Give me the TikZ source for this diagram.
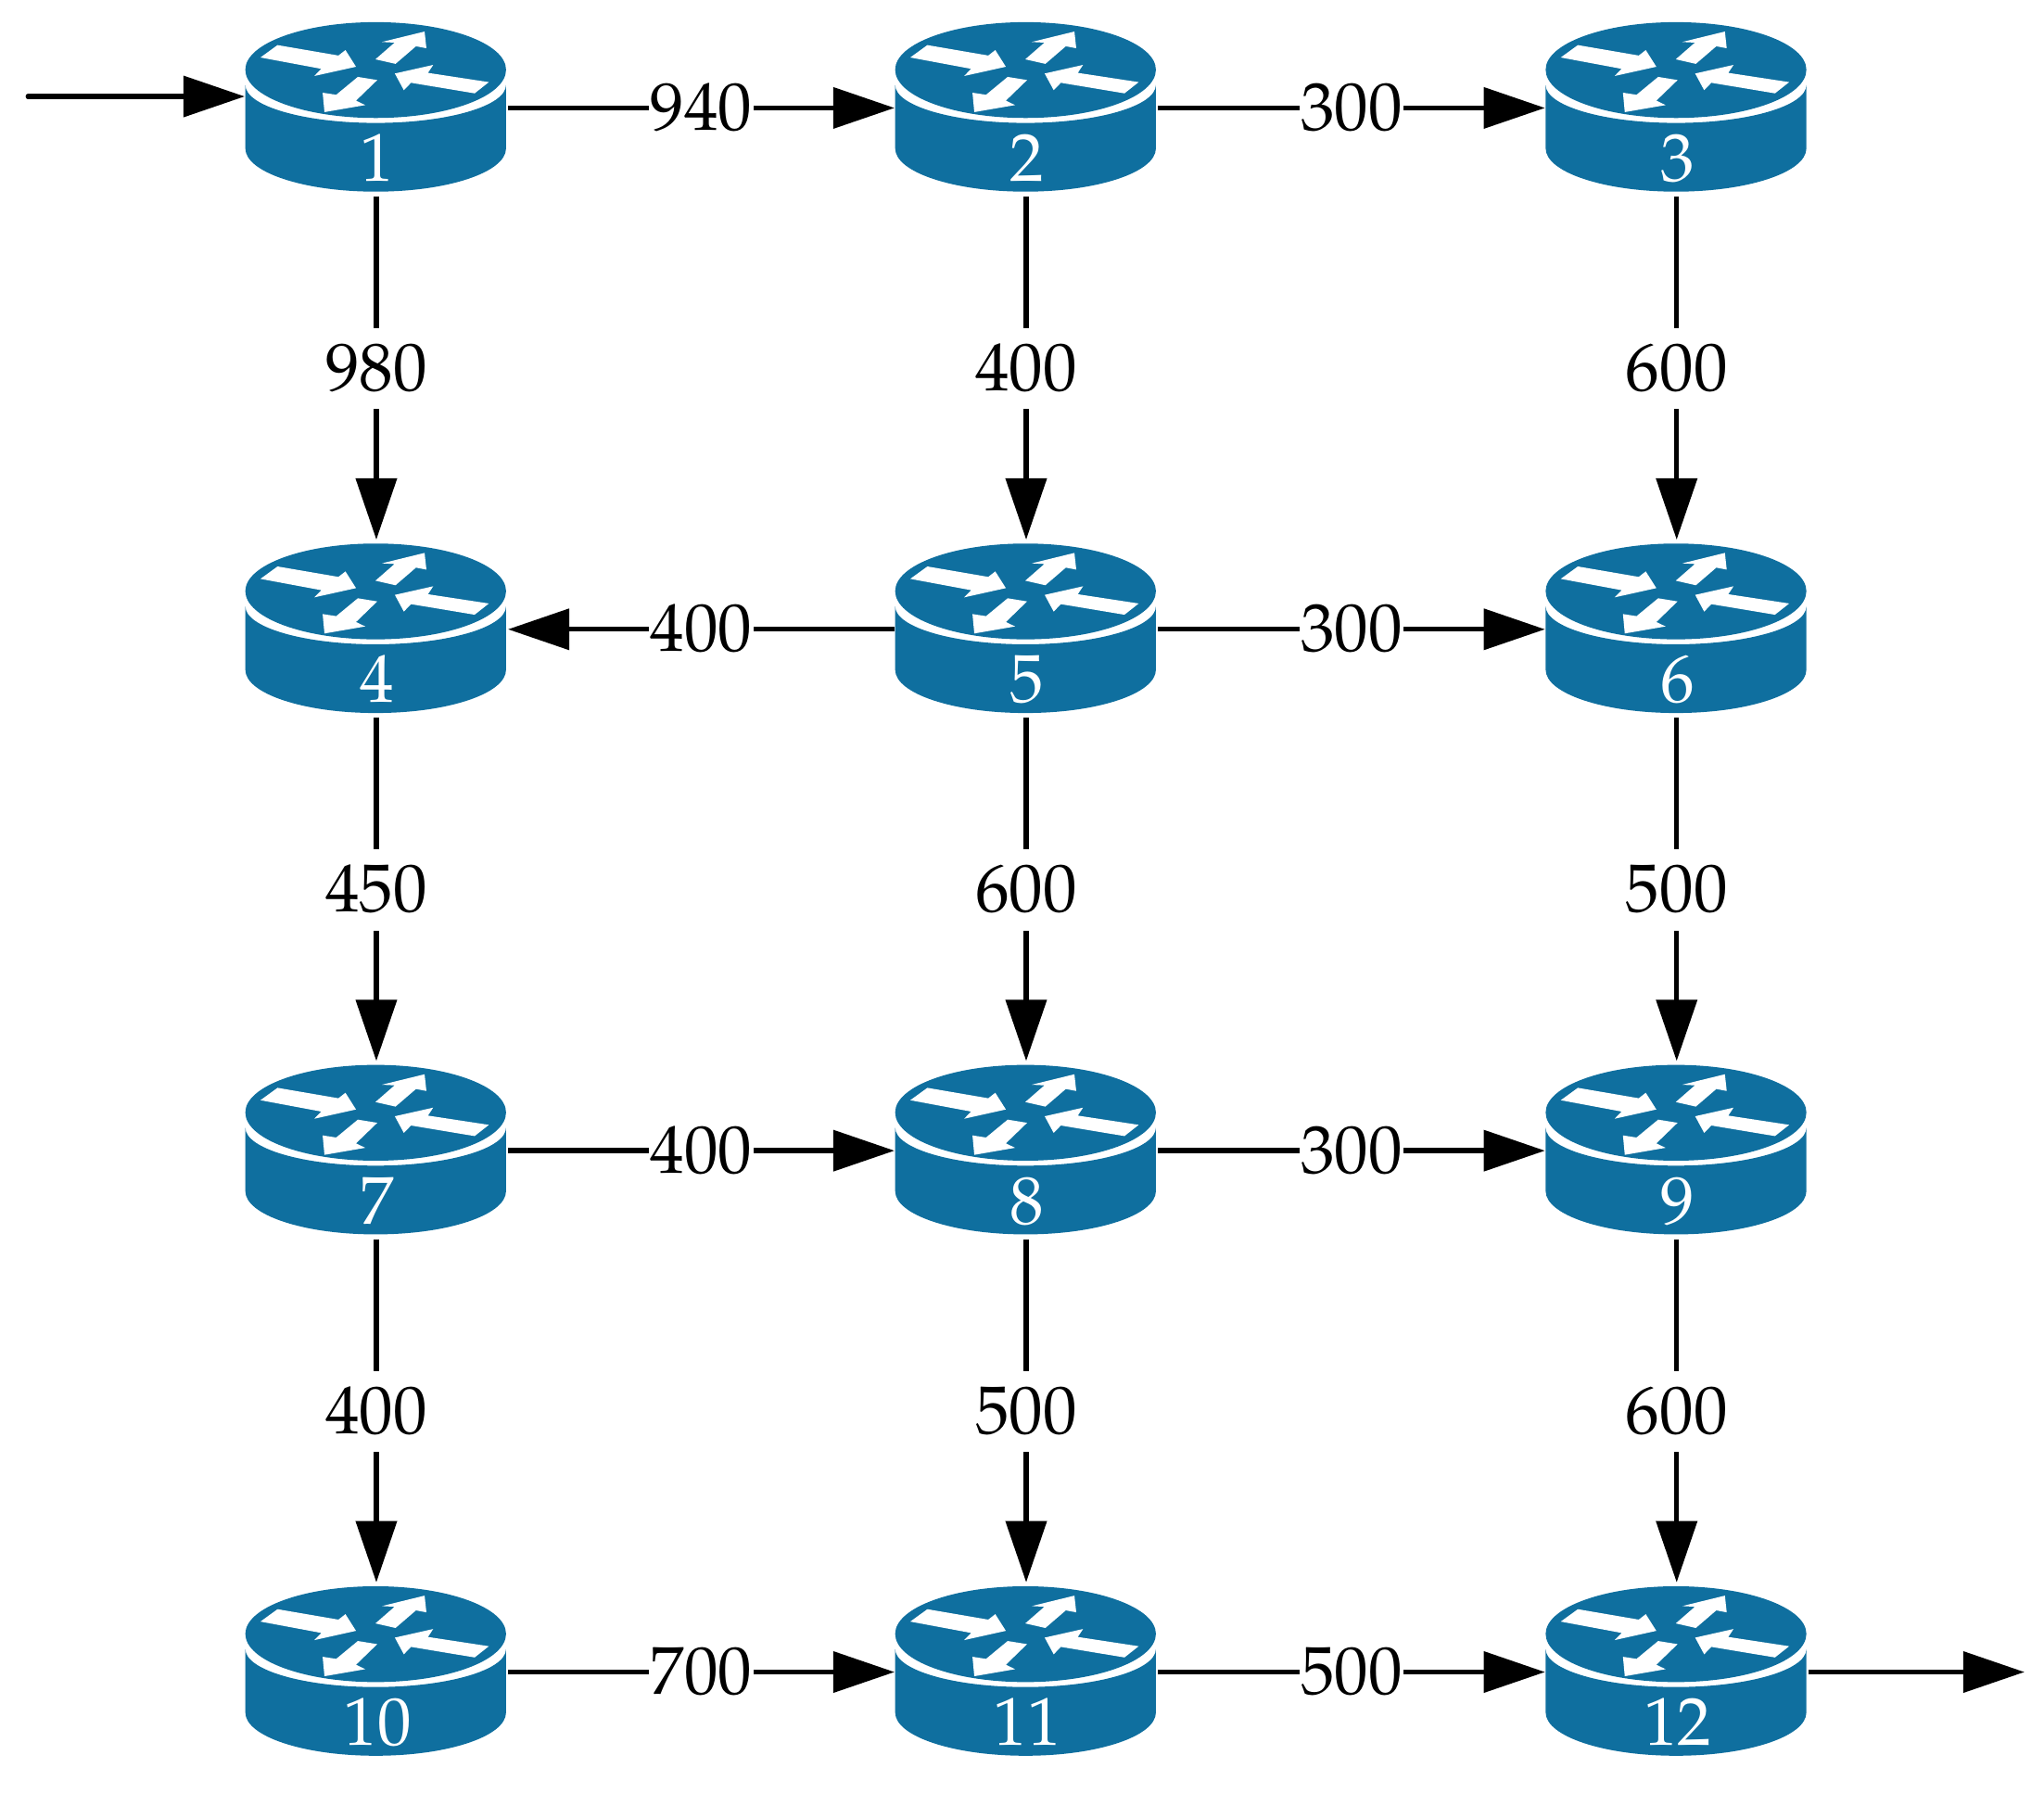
\documentclass[tikz,border=0pt]{standalone}
\usepackage[T1]{fontenc}
\usepackage{mathpazo}
\usetikzlibrary{arrows.meta}
\definecolor{routerblue}{HTML}{0F6F9F}
\tikzset{
  routerbox/.style={rectangle,inner sep=0pt,minimum width=200pt,minimum height=131pt,outer xsep=1pt,outer ysep=2.3pt},
  routertext/.style={inner sep=0pt,text=white,font=\fontsize{52}{56}\selectfont,text height=35pt,text depth=0pt},
  link/.style={line width=3.8pt,-{Triangle[length=47pt,width=31pt]}},
  vlink/.style={link,shorten >=1pt},
  cost/.style={fill=white,font=\fontsize{52}{56}\selectfont,text height=34pt,text depth=0pt,inner xsep=1pt,inner ysep=14pt},
}
\newcommand{\routerat}[4]{%
  \begin{scope}[shift={(#2,#3)}]
    \fill[routerblue] (-100,-16.8) arc[start angle=180,end angle=0,x radius=100,y radius=29.1]
      -- (100,31.8) arc[start angle=0,end angle=180,x radius=100,y radius=33.2] -- cycle;
    \fill[routerblue] (-100,-28.5) arc[start angle=180,end angle=360,x radius=100,y radius=36.5]
      arc[start angle=0,end angle=180,x radius=100,y radius=37] -- cycle;
    \fill[white] (-88.4,-37.9) -- (-75.3,-47.4) -- (-28.6,-39.4) -- (-23.2,-43.6) -- (-15.1,-30.8) -- (-47.1,-23.7) -- (-41.7,-29.2) -- cycle;
    \fill[white] (-0.2,-36.5) -- (14.5,-49.3) -- (4.8,-49.8) -- (37.5,-57.8) -- (38.9,-45) -- (30.9,-46.5) -- (15.2,-33) -- cycle;
    \fill[white] (14.7,-25.6) -- (44.1,-32.2) -- (40.1,-26.1) -- (86.8,-19) -- (75.9,-10.4) -- (27.1,-18.5) -- (21.6,-12.8) -- cycle;
    \fill[white] (1.2,-20.6) -- (-15.1,-4.8) -- (-8,-1.4) -- (-39.3,4) -- (-40.7,-10.9) -- (-30.3,-9.3) -- (-13.7,-23) -- cycle;
    \node[routertext] (#1t) at (1.3,39.6) {#4};
    \node[routerbox] (#1) at (0.5,0.8) {};
  \end{scope}
}
\begin{document}
\begin{tikzpicture}[x=1pt,y=-1pt]
\useasboundingbox (0,0) rectangle (1568,1374.6);
\routerat{r1}{288.2}{82}{1}
\routerat{r2}{786.7}{82}{2}
\routerat{r3}{1285.7}{82}{3}
\routerat{r4}{288.2}{481.9}{4}
\routerat{r5}{786.7}{481.9}{5}
\routerat{r6}{1285.7}{481.9}{6}
\routerat{r7}{288.2}{881.8}{7}
\routerat{r8}{786.7}{881.8}{8}
\routerat{r9}{1285.7}{881.8}{9}
\routerat{r10}{288.2}{1281.7}{10}
\routerat{r11}{786.7}{1281.7}{11}
\routerat{r12}{1285.7}{1281.7}{12}
\coordinate (inlet) at (21.5,74);
\coordinate (outlet) at (1553,1283);
\draw[link,line cap=round] (inlet) -- (inlet -| r1.west);
\draw[link] (r12.east) -- (r12.east -| outlet);
\draw[link] (r1.east) -- node[cost]{940} (r2.west);
\draw[link] (r2.east) -- node[cost]{300} (r3.west);
\draw[link] (r5.west) -- node[cost]{400} (r4.east);
\draw[link] (r5.east) -- node[cost]{300} (r6.west);
\draw[link] (r7.east) -- node[cost]{400} (r8.west);
\draw[link] (r8.east) -- node[cost]{300} (r9.west);
\draw[link] (r10.east) -- node[cost]{700} (r11.west);
\draw[link] (r11.east) -- node[cost]{500} (r12.west);
\draw[vlink] (r1.south) -- node[cost]{980} (r4.north);
\draw[vlink] (r2.south) -- node[cost]{400} (r5.north);
\draw[vlink] (r3.south) -- node[cost]{600} (r6.north);
\draw[vlink] (r4.south) -- node[cost]{450} (r7.north);
\draw[vlink] (r5.south) -- node[cost]{600} (r8.north);
\draw[vlink] (r6.south) -- node[cost]{500} (r9.north);
\draw[vlink] (r7.south) -- node[cost]{400} (r10.north);
\draw[vlink] (r8.south) -- node[cost]{500} (r11.north);
\draw[vlink] (r9.south) -- node[cost]{600} (r12.north);
\end{tikzpicture}
\end{document}
